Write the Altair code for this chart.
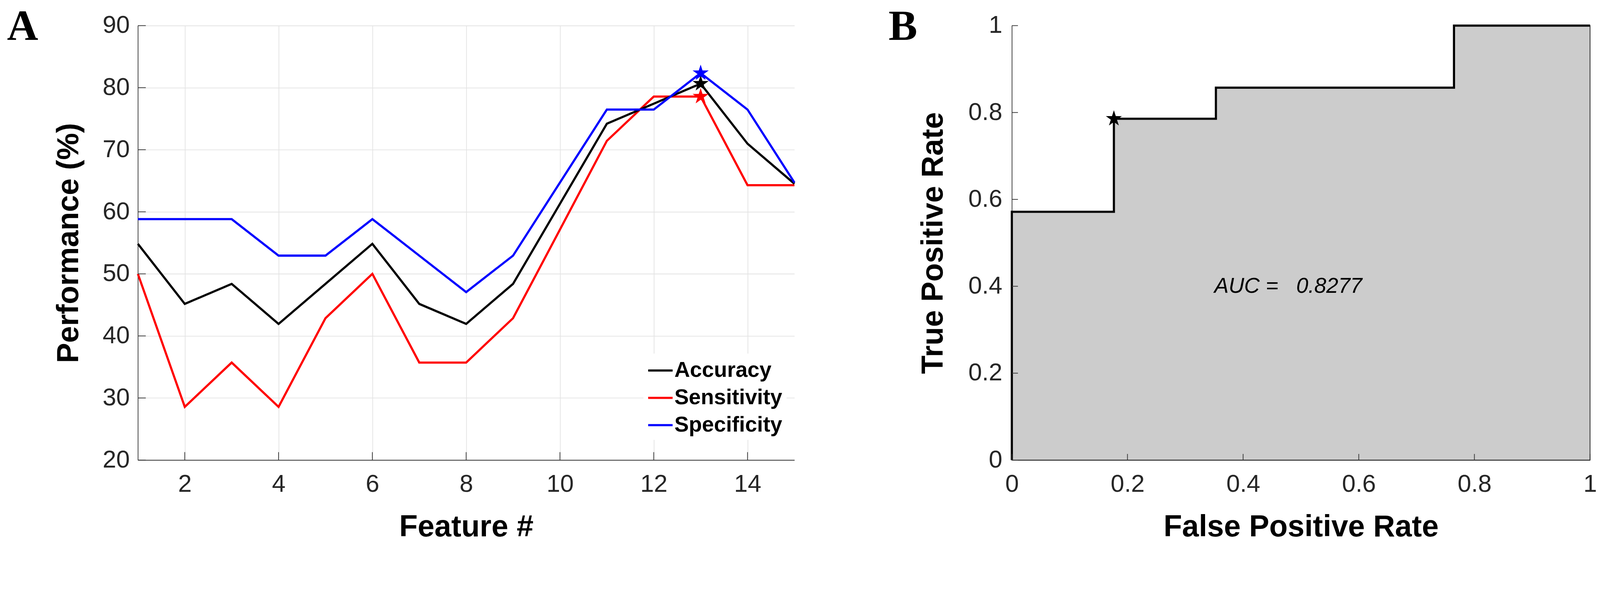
import altair as alt
import pandas as pd

# ---------------- data ----------------
features = [1, 2, 3, 4, 5, 6, 7, 8, 9, 10, 11, 12, 13, 14, 15]
accuracy = [54.84, 45.16, 48.39, 41.94, 48.39, 54.84, 45.16, 41.94, 48.39, 61.29, 74.19, 77.42, 80.65, 70.97, 64.52]
sensitivity = [50.00, 28.57, 35.71, 28.57, 42.86, 50.00, 35.71, 35.71, 42.86, 57.14, 71.43, 78.57, 78.57, 64.29, 64.29]
specificity = [58.82, 58.82, 58.82, 52.94, 52.94, 58.82, 52.94, 47.06, 52.94, 64.71, 76.47, 76.47, 82.35, 76.47, 64.71]
series_names = ["Accuracy", "Sensitivity", "Specificity"]
series_colors = ["#000000", "#ff0000", "#0000ff"]
best_feature = 13
x_ticks_a = [2, 4, 6, 8, 10, 12, 14]
y_ticks_a = [20, 30, 40, 50, 60, 70, 80, 90]

fpr = [0.0, 0.0, 0.1765, 0.1765, 0.3529, 0.3529, 0.7647, 0.7647, 1.0]
tpr = [0.0, 0.5714, 0.5714, 0.7857, 0.7857, 0.8571, 0.8571, 1.0, 1.0]
best_fpr = [0.1765]
best_tpr = [0.7857]
auc_value = 0.8277
auc_pos_x = [0.35]
auc_pos_y = [0.4]
roc_ticks = [0, 0.2, 0.4, 0.6, 0.8, 1]
panel_labels = ["A", "B"]

# ---------------- style ----------------
FONT = "Liberation Sans"
AX = "#333333"
STAR = ("M0,-1L0.2245,-0.309L0.951,-0.309L0.363,0.118L0.588,0.809L0,0.382"
        "L-0.588,0.809L-0.363,0.118L-0.951,-0.309L-0.2245,-0.309Z")
WA, HA = 1827, 1208
WB, HB = 1609, 1208


def panel_letter(letter, x_px):
    return alt.Chart(pd.DataFrame({"label": [letter]})).mark_text(
        font="Liberation Serif", fontSize=120, fontWeight="bold", color="#000000",
        align="left", baseline="alphabetic"
    ).encode(x=alt.value(x_px), y=alt.value(40), text="label:N")


# ---------------- panel A ----------------
rows = []
for name, vals in [("Sensitivity", sensitivity), ("Accuracy", accuracy), ("Specificity", specificity)]:
    for f, v in zip(features, vals):
        rows.append({"feature": f, "value": v, "series": name})
perf = pd.DataFrame(rows)

xA = alt.Scale(domain=[1, 15], nice=False, zero=False)
yA = alt.Scale(domain=[20, 90], nice=False, zero=False)
cA = alt.Scale(domain=series_names, range=series_colors)
axA_x = alt.Axis(values=x_ticks_a, title="Feature #", grid=True)
axA_y = alt.Axis(values=y_ticks_a, title="Performance (%)", grid=True, titlePadding=50)

lines = alt.Chart(perf).mark_line(strokeWidth=6).encode(
    x=alt.X("feature:Q", scale=xA, axis=axA_x),
    y=alt.Y("value:Q", scale=yA, axis=axA_y),
    color=alt.Color("series:N", scale=cA, sort=series_names,
                    legend=alt.Legend(
                        title=None, orient="none", legendX=1407, legendY=912,
                        direction="vertical", symbolType="stroke",
                        symbolSize=4624, symbolStrokeWidth=6,
                        labelFont=FONT, labelFontSize=60, labelFontWeight="bold",
                        labelColor="#000000", labelOffset=2, rowPadding=9,
                        labelLimit=1000,
                        fillColor="white", padding=10, strokeColor="white")),
)

stars_a = alt.Chart(perf).transform_filter(
    alt.datum.feature == best_feature
).mark_point(shape=STAR, filled=True, size=1800, opacity=1, strokeWidth=1.5).encode(
    x=alt.X("feature:Q", scale=xA, axis=axA_x),
    y=alt.Y("value:Q", scale=yA, axis=axA_y),
    fill=alt.Fill("series:N", scale=cA, legend=None),
    stroke=alt.Stroke("series:N", scale=cA, legend=None),
)

xt_a = alt.Chart(pd.DataFrame({"feature": x_ticks_a})).mark_rule(color=AX, strokeWidth=2).encode(
    x=alt.X("feature:Q", scale=xA, axis=axA_x), y=alt.value(HA), y2=alt.value(HA - 22))
yt_a = alt.Chart(pd.DataFrame({"value": y_ticks_a})).mark_rule(color=AX, strokeWidth=2).encode(
    y=alt.Y("value:Q", scale=yA, axis=axA_y), x=alt.value(0), x2=alt.value(22))

panel_a = alt.layer(lines, stars_a, xt_a, yt_a, panel_letter(panel_labels[0], -364)).properties(
    width=WA, height=HA,
)

# ---------------- panel B ----------------
roc = pd.DataFrame({"idx": list(range(len(fpr))), "fpr": fpr, "tpr": tpr})
xB = alt.Scale(domain=[0, 1], nice=False)
yB = alt.Scale(domain=[0, 1], nice=False)
axB_x = alt.Axis(values=roc_ticks, format="~g", title="False Positive Rate", grid=False)
axB_y = alt.Axis(values=roc_ticks, format="~g", title="True Positive Rate",
                 grid=False, labelPadding=27)

area = alt.Chart(roc).mark_area(fill="#cccccc", stroke="#1a1a1a", strokeWidth=2,
                                opacity=1, interpolate="linear").encode(
    x=alt.X("fpr:Q", scale=xB, axis=axB_x),
    y=alt.Y("tpr:Q", scale=yB, stack=None, axis=axB_y),
)
roc_line = alt.Chart(roc).mark_line(color="#000000", strokeWidth=6).encode(
    x=alt.X("fpr:Q", scale=xB, axis=axB_x),
    y=alt.Y("tpr:Q", scale=yB, axis=axB_y),
    order="idx:Q",
)
best_b = alt.Chart(pd.DataFrame({"fpr": best_fpr, "tpr": best_tpr})).mark_point(
    shape=STAR, filled=True, size=2200, opacity=1, color="#000000", strokeWidth=1.5
).encode(
    x=alt.X("fpr:Q", scale=xB, axis=axB_x),
    y=alt.Y("tpr:Q", scale=yB, axis=axB_y),
)
auc_text = alt.Chart(pd.DataFrame({
    "fpr": auc_pos_x, "tpr": auc_pos_y,
    "label": ["AUC =\u00a0\u00a0\u00a0" + f"{auc_value:.4f}"]})).mark_text(
    align="left", baseline="middle", font=FONT, fontSize=60, fontStyle="italic",
    color="#000000"
).encode(
    x=alt.X("fpr:Q", scale=xB, axis=axB_x),
    y=alt.Y("tpr:Q", scale=yB, axis=axB_y),
    text="label:N",
)
xt_b = alt.Chart(pd.DataFrame({"fpr": roc_ticks})).mark_rule(color=AX, strokeWidth=2).encode(
    x=alt.X("fpr:Q", scale=xB, axis=axB_x), y=alt.value(HB), y2=alt.value(HB - 17))
yt_b = alt.Chart(pd.DataFrame({"tpr": roc_ticks})).mark_rule(color=AX, strokeWidth=2).encode(
    y=alt.Y("tpr:Q", scale=yB, axis=axB_y), x=alt.value(0), x2=alt.value(17))

panel_b = alt.layer(area, roc_line, xt_b, yt_b, best_b, auc_text,
                    panel_letter(panel_labels[1], -343)).properties(
    width=WB, height=HB,
)

chart = alt.hconcat(panel_a, panel_b, spacing=250).properties(
    padding={"left": 11, "top": -56, "right": 0, "bottom": 0}
).configure_view(stroke=None).configure_axis(
    labelFont=FONT, labelFontSize=68, labelColor="#262626",
    titleFont=FONT, titleFontSize=84, titleFontWeight="bold", titleColor="#000000",
    domainColor=AX, domainWidth=2, ticks=False, tickSize=0,
    gridColor="#e3e3e3", gridWidth=2, labelFlush=False, labelOverlap=False,
).configure_axisX(
    labelPadding=34, titlePadding=44,
).configure_axisY(
    labelPadding=23, titlePadding=54,
)

chart.save("out.html", embed_options={"renderer": "svg", "actions": False})
